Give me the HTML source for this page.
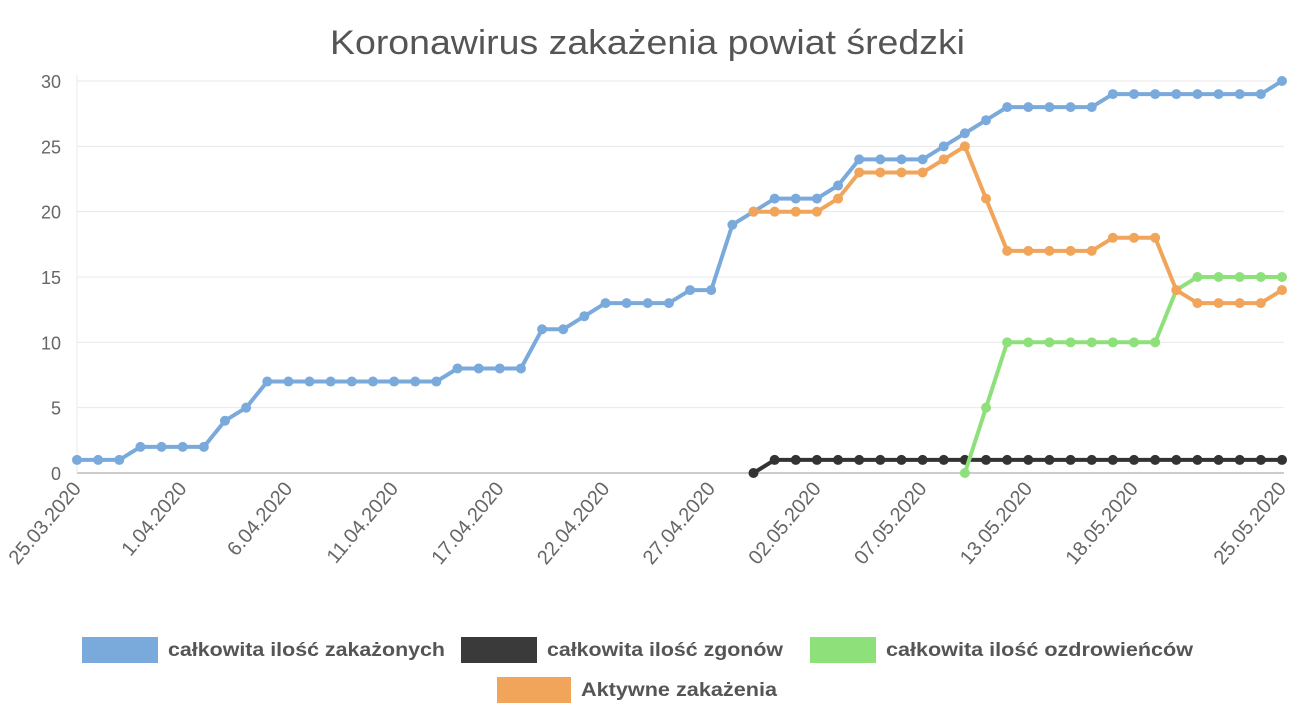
<!DOCTYPE html>
<html><head><meta charset="utf-8"><style>
html,body{margin:0;padding:0;background:#fff;}
svg{display:block;font-family:"Liberation Sans",sans-serif;}
</style></head><body>
<svg id="c" width="1294" height="720" xmlns="http://www.w3.org/2000/svg">
<text x="330" y="54" font-size="34" fill="#555" textLength="635" lengthAdjust="spacingAndGlyphs">Koronawirus zakażenia powiat średzki</text>
<g id="grid"></g><g id="series"></g><g id="xl"></g>
<rect x="82" y="637" width="76" height="26" fill="#7aaadc"/>
<text x="168" y="656" font-size="19" font-weight="bold" fill="#555" textLength="277" lengthAdjust="spacingAndGlyphs">całkowita ilość zakażonych</text>
<rect x="461" y="637" width="76" height="26" fill="#3a3a3a"/>
<text x="547" y="656" font-size="19" font-weight="bold" fill="#555" textLength="236" lengthAdjust="spacingAndGlyphs">całkowita ilość zgonów</text>
<rect x="810" y="637" width="66" height="26" fill="#8ee07a"/>
<text x="886" y="656" font-size="19" font-weight="bold" fill="#555" textLength="307" lengthAdjust="spacingAndGlyphs">całkowita ilość ozdrowieńców</text>
<rect x="497" y="677" width="74" height="26" fill="#f0a55a"/>
<text x="581" y="696" font-size="19" font-weight="bold" fill="#555" textLength="196" lengthAdjust="spacingAndGlyphs">Aktywne zakażenia</text>
</svg>
<script>
var NS="http://www.w3.org/2000/svg",x0=77,dx=1205/57,y0=473,dy=392/30;
function X(i){return x0+i*dx}function Y(v){return y0-v*dy}
function el(p,t,a,txt){var e=document.createElementNS(NS,t);for(var k in a)e.setAttribute(k,a[k]);if(txt)e.textContent=txt;document.getElementById(p).appendChild(e);}
for(var v=0;v<=30;v+=5){el("grid","line",{x1:x0,x2:1284,y1:Y(v),y2:Y(v),stroke:v?"#e8e8e8":"#999","stroke-width":1});
el("grid","text",{x:61,y:Y(v)+7,"text-anchor":"end","font-size":18,fill:"#666"},String(v));}
el("grid","line",{x1:x0,x2:x0,y1:75,y2:473,stroke:"#e8e8e8"});
var blue=[1,1,1,2,2,2,2,4,5,7,7,7,7,7,7,7,7,7,8,8,8,8,11,11,12,13,13,13,13,14,14,19,20,21,21,21,22,24,24,24,24,25,26,27,28,28,28,28,28,29,29,29,29,29,29,29,29,30];
var black=[0];for(var i=33;i<=57;i++)black.push(1);
var orange=[20,20,20,20,21,23,23,23,23,24,25,21,17,17,17,17,17,18,18,18,14,13,13,13,13,14];
var green=[0,5,10,10,10,10,10,10,10,10,14,15,15,15,15,15];
function s(d,st,c){var p="";d.forEach(function(v,j){p+=(j?"L":"M")+X(st+j).toFixed(1)+","+Y(v).toFixed(1)});
el("series","path",{d:p,fill:"none",stroke:c,"stroke-width":4,"stroke-linejoin":"round"});
d.forEach(function(v,j){el("series","circle",{cx:X(st+j),cy:Y(v),r:5,fill:c})});}
s(blue,0,"#7aaadc");s(black,32,"#333");s(green,42,"#8ee07a");s(orange,32,"#f0a55a");
var L=[[0,"25.03.2020"],[5,"1.04.2020"],[10,"6.04.2020"],[15,"11.04.2020"],[20,"17.04.2020"],[25,"22.04.2020"],[30,"27.04.2020"],[35,"02.05.2020"],[40,"07.05.2020"],[45,"13.05.2020"],[50,"18.05.2020"],[57,"25.05.2020"]];
L.forEach(function(a){var x=X(a[0])+5,y=489;el("xl","text",{x:x,y:y,"text-anchor":"end","font-size":20,fill:"#666",transform:"rotate(-50 "+x+" "+y+")"},a[1]);});
</script>
</body></html>
